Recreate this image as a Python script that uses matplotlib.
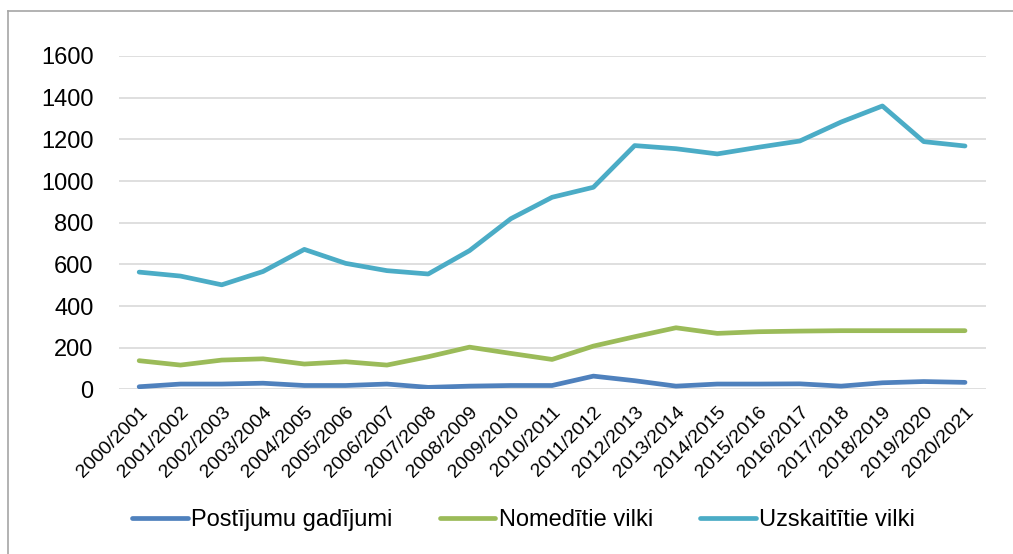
import matplotlib
matplotlib.use('Agg')
import matplotlib.pyplot as plt
from matplotlib.lines import Line2D

plt.rcParams['font.family'] = ['Liberation Sans', 'DejaVu Sans']

# seasons and counts
seasons = ['2000/2001', '2001/2002', '2002/2003', '2003/2004', '2004/2005',
           '2005/2006', '2006/2007', '2007/2008', '2008/2009', '2009/2010',
           '2010/2011', '2011/2012', '2012/2013', '2013/2014', '2014/2015',
           '2015/2016', '2016/2017', '2017/2018', '2018/2019', '2019/2020',
           '2020/2021']
damage_cases = [13, 26, 26, 30, 19, 19, 26, 10, 16, 19,
                19, 64, 42, 16, 26, 26, 27, 16, 32, 38, 34]
wolves_hunted = [138, 117, 141, 147, 122, 133, 117, 157, 203, 173,
                 144, 208, 253, 296, 269, 277, 280, 282, 282, 282, 282]
wolves_counted = [563, 544, 502, 566, 672, 605, 570, 554, 666, 819,
                  922, 970, 1170, 1155, 1130, 1162, 1192, 1283, 1360, 1189, 1168]

series = [
    ('Postījumu gadījumi', damage_cases, '#4F81BD'),
    ('Nomedītie vilki', wolves_hunted, '#9BBB59'),
    ('Uzskaitītie vilki', wolves_counted, '#4BACC6'),
]

fig = plt.figure(figsize=(10.13, 5.54), dpi=100)
ax = fig.add_axes([0.117, 0.297, 0.856, 0.602])

x = range(len(seasons))
for name, vals, color in series:
    ax.plot(x, vals, color=color, lw=3.4, label=name,
            solid_capstyle='round', solid_joinstyle='round')

ax.set_xlim(-0.5, len(seasons) - 0.5)
ax.set_ylim(0, 1600)
ax.set_yticks(range(0, 1601, 200))
ax.set_xticks(list(x))
ax.set_xticklabels(seasons, rotation=45, ha='right', va='top',
                   rotation_mode='anchor', fontsize=14)
ax.tick_params(axis='y', labelsize=17, length=0, pad=18)
ax.tick_params(axis='x', length=0, pad=10)
ax.grid(axis='y', color='#D9D9D9', lw=1.2)
ax.set_axisbelow(True)
for s in ax.spines.values():
    s.set_visible(False)

fig.legend(loc='center', bbox_to_anchor=(0.517, 0.061), ncol=3,
           frameon=False, fontsize=17, handlelength=2.35,
           handletextpad=0.15, columnspacing=2.0)

# chart area border (top and left edges visible)
fig.add_artist(Line2D([8 / 1013, 1.0], [1 - 11 / 554, 1 - 11 / 554],
                      transform=fig.transFigure, color='#A6A6A6', lw=1.2))
fig.add_artist(Line2D([8 / 1013, 8 / 1013], [0.0, 1 - 11 / 554],
                      transform=fig.transFigure, color='#A6A6A6', lw=1.2))

fig.savefig('out.png', dpi=100)
